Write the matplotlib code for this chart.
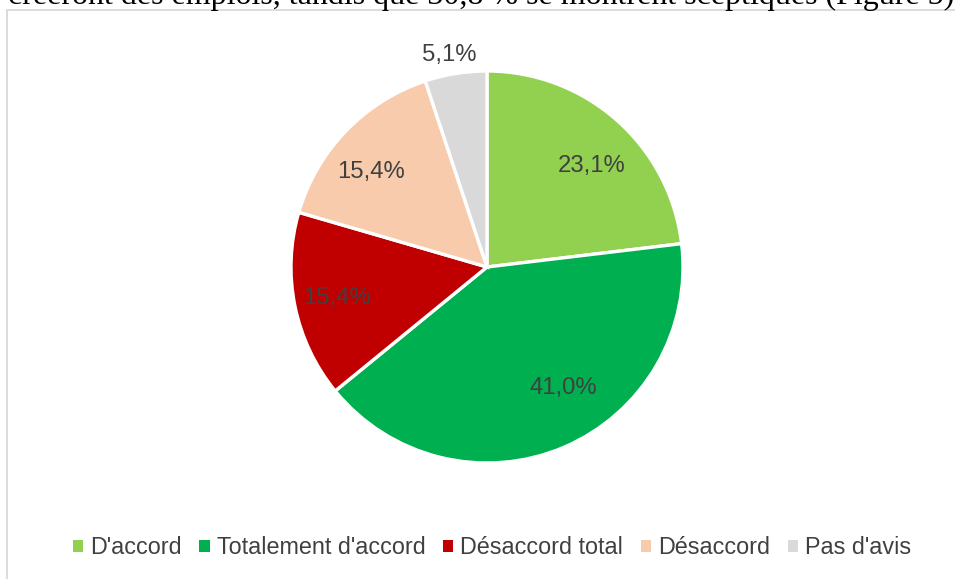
import matplotlib
matplotlib.use("Agg")
import matplotlib.pyplot as plt
import numpy as np
from matplotlib.patches import Rectangle

categories = ["D'accord", "Totalement d'accord", "Désaccord total", "Désaccord", "Pas d'avis"]
values = [23.1, 41.0, 15.4, 15.4, 5.1]
colors = ["#92D050", "#00B050", "#C00000", "#F8CBAD", "#D9D9D9"]
top_text = "créeront des emplois, tandis que 30,8 % se montrent sceptiques (Figure 5)"

plt.rcParams['font.family'] = ['Liberation Sans', 'DejaVu Sans']

W, H = 955, 579
fig = plt.figure(figsize=(W / 100, H / 100), dpi=100)
fig.patch.set_facecolor("white")

# border of chart area
fig.add_artist(Rectangle((7 / W, -0.1), 1.2, 1 - 10 / H + 0.1, transform=fig.transFigure,
                         fill=False, edgecolor="#D9D9D9", linewidth=1.3))

# cut-off text line above
fig.text(8 / W, 1 - 4 / H, top_text, family=['Liberation Serif', 'DejaVu Serif'],
         fontsize=23.0, color="black", va="baseline", ha="left")

cx, cy, r = 487, 267, 196
ax = fig.add_axes([(cx - r) / W, (H - cy - r) / H, 2 * r / W, 2 * r / H])
wedges, _ = ax.pie(values, colors=colors, startangle=90, counterclock=False,
                   radius=1, wedgeprops=dict(edgecolor="white", linewidth=2.4))
ax.set_xlim(-1, 1)
ax.set_ylim(-1, 1)
ax.set_aspect("equal")
ax.axis("off")

# label placement (radial distance, angular offset in degrees)
label_r = [0.74, 0.73, 0.78, 0.765, 1.10]
label_da = [-4.5, 9.0, 0.0, 4.5, 1.0]
for w, v, lr, da in zip(wedges, values, label_r, label_da):
    mid = np.deg2rad((w.theta1 + w.theta2) / 2 + da)
    txt = f"{v:.1f}".replace(".", ",") + "%"
    ax.text(lr * np.cos(mid), lr * np.sin(mid), txt, ha="center", va="center",
            fontsize=17.2, color="#404040", clip_on=False)

handles = [plt.Rectangle((0, 0), 1, 1, facecolor=c, edgecolor="none") for c in colors]
fig.legend(handles, categories, loc="center", bbox_to_anchor=(492 / W, 1 - 548 / H),
           ncol=5, frameon=False, fontsize=16.8, handlelength=0.45, handleheight=0.45,
           handletextpad=0.3, columnspacing=0.75, labelcolor="#404040")

fig.savefig("out.png", dpi=100)
